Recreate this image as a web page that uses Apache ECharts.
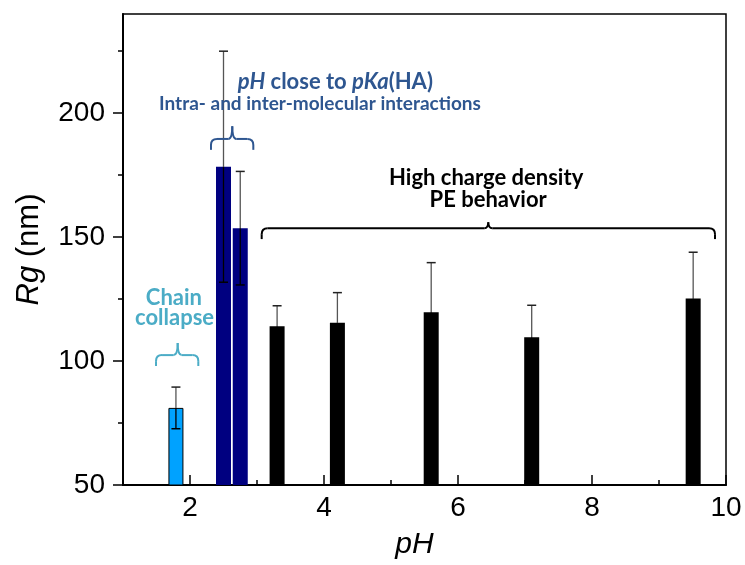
<!DOCTYPE html>
<html>
<head>
<meta charset="utf-8">
<script src="https://cdn.jsdelivr.net/npm/echarts@6/dist/echarts.min.js"></script>
<style>html,body{margin:0;padding:0;background:#fff}#c{width:745px;height:565px}</style>
</head>
<body>
<div id="c"></div>
<script>
// ---- data ----
const phValues = [1.79, 2.50, 2.75, 3.30, 4.20, 5.60, 7.10, 9.51];
const rgValues = [81.1, 178.4, 153.6, 114.0, 115.5, 119.7, 109.6, 125.2];
const rgErrors = [8.4, 46.6, 22.9, 8.3, 12.1, 20.0, 12.9, 18.7];
const barGroup = [0, 1, 1, 2, 2, 2, 2, 2]; // 0 collapse, 1 near pKa, 2 PE
const xMajorTicks = [2, 4, 6, 8, 10];
const xMinorTicks = [3, 5, 7, 9];
const yMajorTicks = [50, 100, 150, 200];
const yMinorTicks = [75, 125, 175, 225];
// braces: [xStart, xEnd, xMid, yEnds, yLine, yTip, group]
const braces = [
  [1.493, 2.124, 1.816, 98.0, 102.4, 107.3, 0],
  [2.313, 2.945, 2.631, 185.2, 189.6, 194.7, 1],
  [3.070, 9.836, 6.452, 149.2, 153.6, 156.0, 2]
];
// annotations: [x, y, text index, group]
const annotationTexts = [
  'Chain',
  'collapse',
  '{i|pH} close to {i|pKa}(HA)',
  'Intra- and inter-molecular interactions',
  'High charge density',
  'PE behavior'
];
const annotations = [
  [1.76, 125.6, 0, 0],
  [1.77, 117.4, 1, 0],
  [4.17, 212.8, 2, 1],
  [3.94, 203.6, 3, 1],
  [6.42, 173.8, 4, 2],
  [6.45, 165.0, 5, 2]
];

// ---- styles ----
const barColors = ['#00A2FF', '#000080', '#000000'];
const barBorders = ['#000000', '#000080', '#000000'];
const noteColors = ['#4BACC6', '#2E5690', '#000000'];
const noteSizes = [22, 22, 22, 19, 22, 22];
const noteFont = 'Lato';

const chart = echarts.init(document.getElementById('c'));

const hiddenAxisBits = {
  axisLine: {show: false},
  axisLabel: {show: false},
  splitLine: {show: false}
};

chart.setOption({
  animation: false,
  backgroundColor: '#fff',
  grid: {left: 123, right: 19, top: 14, bottom: 75, show: true, borderColor: '#000', borderWidth: 1.5},
  xAxis: [
    {
      type: 'value', min: 1, max: 10, position: 'bottom',
      name: '{i|pH}', nameLocation: 'middle', nameGap: 45,
      nameTextStyle: {rich: {i: {fontStyle: 'italic', fontSize: 30, fontFamily: 'Liberation Sans', color: '#000', padding: [0, 20, 0, 0]}}},
      axisLine: {lineStyle: {color: '#000', width: 2}},
      axisTick: {inside: true, length: 10, lineStyle: {color: '#000', width: 1.5}, customValues: xMajorTicks},
      axisLabel: {fontSize: 28, fontFamily: 'Liberation Sans', color: '#000', margin: 9, customValues: xMajorTicks},
      splitLine: {show: false}
    },
    Object.assign({
      type: 'value', min: 1, max: 10, position: 'bottom',
      axisTick: {inside: true, length: 5, lineStyle: {color: '#000', width: 1.5}, customValues: xMinorTicks}
    }, hiddenAxisBits)
  ],
  yAxis: [
    {
      type: 'value', min: 50, max: 240, position: 'left',
      name: '{i|Rg} (nm)', nameLocation: 'middle', nameGap: 78, nameRotate: 90,
      nameTextStyle: {fontSize: 31, fontFamily: 'Liberation Sans', color: '#000',
        rich: {i: {fontStyle: 'italic', fontSize: 31, fontFamily: 'Liberation Sans', color: '#000'}}},
      axisLine: {lineStyle: {color: '#000', width: 2}},
      axisTick: {inside: false, length: 10, lineStyle: {color: '#000', width: 1.5}, customValues: yMajorTicks},
      axisLabel: {fontSize: 28, fontFamily: 'Liberation Sans', color: '#000', margin: 18, customValues: yMajorTicks},
      splitLine: {show: false}
    },
    Object.assign({
      type: 'value', min: 50, max: 240, position: 'left',
      axisTick: {inside: false, length: 5, lineStyle: {color: '#000', width: 1.5}, customValues: yMinorTicks}
    }, hiddenAxisBits)
  ],
  series: [
    {
      type: 'bar', xAxisIndex: 0, yAxisIndex: 0, barWidth: 15, clip: true,
      data: phValues.map((x, i) => ({
        value: [x, rgValues[i]],
        itemStyle: {color: barColors[barGroup[i]], borderColor: barBorders[barGroup[i]], borderWidth: barGroup[i] === 0 ? 1 : 0}
      })),
      z: 2
    },
    {
      type: 'custom', xAxisIndex: 0, yAxisIndex: 0, z: 3,
      data: phValues.map((x, i) => [x, rgValues[i], rgErrors[i]]),
      renderItem: function (params, api) {
        const x = api.value(0), y = api.value(1), e = api.value(2);
        const top = api.coord([x, y + e]);
        const mid = api.coord([x, y]);
        const bot = api.coord([x, y - e]);
        const hw = 4.5;
        return {
          type: 'group',
          children: [
            {type: 'line', shape: {x1: top[0], y1: top[1], x2: mid[0], y2: mid[1]}, style: {stroke: '#555', lineWidth: 1.3}},
            {type: 'line', shape: {x1: mid[0], y1: mid[1], x2: bot[0], y2: bot[1]}, style: {stroke: '#000', lineWidth: 1.3}},
            {type: 'line', shape: {x1: top[0] - hw, y1: top[1], x2: top[0] + hw, y2: top[1]}, style: {stroke: '#222', lineWidth: 1.5}},
            {type: 'line', shape: {x1: bot[0] - hw, y1: bot[1], x2: bot[0] + hw, y2: bot[1]}, style: {stroke: '#000', lineWidth: 1.5}}
          ]
        };
      }
    },
    {
      type: 'custom', xAxisIndex: 0, yAxisIndex: 0, z: 4, clip: false,
      data: braces,
      renderItem: function (params, api) {
        const x1 = api.coord([api.value(0), api.value(3)]);
        const x2 = api.coord([api.value(1), api.value(3)]);
        const m = api.coord([api.value(2), api.value(5)]);
        const yl = api.coord([api.value(0), api.value(4)])[1];
        const col = noteColors[api.value(6)];
        const r = 6, r2 = 4;
        const st = {stroke: col, lineWidth: 2, fill: null};
        const L = (a, b, c, d) => ({type: 'line', shape: {x1: a, y1: b, x2: c, y2: d}, style: st});
        const Q = (a, b, cx, cy, c, d) => ({type: 'bezierCurve', shape: {x1: a, y1: b, cpx1: cx, cpy1: cy, x2: c, y2: d}, style: st});
        return {
          type: 'group',
          children: [
            L(x1[0], x1[1], x1[0], yl + r),
            Q(x1[0], yl + r, x1[0], yl, x1[0] + r, yl),
            L(x1[0] + r, yl, m[0] - r2, yl),
            Q(m[0] - r2, yl, m[0], yl, m[0], m[1]),
            Q(m[0], m[1], m[0], yl, m[0] + r2, yl),
            L(m[0] + r2, yl, x2[0] - r, yl),
            Q(x2[0] - r, yl, x2[0], yl, x2[0], yl + r),
            L(x2[0], yl + r, x2[0], x2[1])
          ]
        };
      }
    },
    {
      type: 'custom', xAxisIndex: 0, yAxisIndex: 0, z: 5, clip: false,
      data: annotations,
      renderItem: function (params, api) {
        const p = api.coord([api.value(0), api.value(1)]);
        const col = noteColors[api.value(3)];
        const fs = noteSizes[params.dataIndex];
        return {
          type: 'text', x: p[0], y: p[1],
          style: {
            text: annotationTexts[api.value(2)],
            fill: col, fontFamily: noteFont, fontWeight: 'bold', fontSize: fs,
            align: 'center', verticalAlign: 'middle',
            rich: {i: {fontStyle: 'italic', fontWeight: 'bold', fontFamily: noteFont, fontSize: fs, fill: col, color: col}}
          }
        };
      }
    }
  ]
});
</script>
</body>
</html>
